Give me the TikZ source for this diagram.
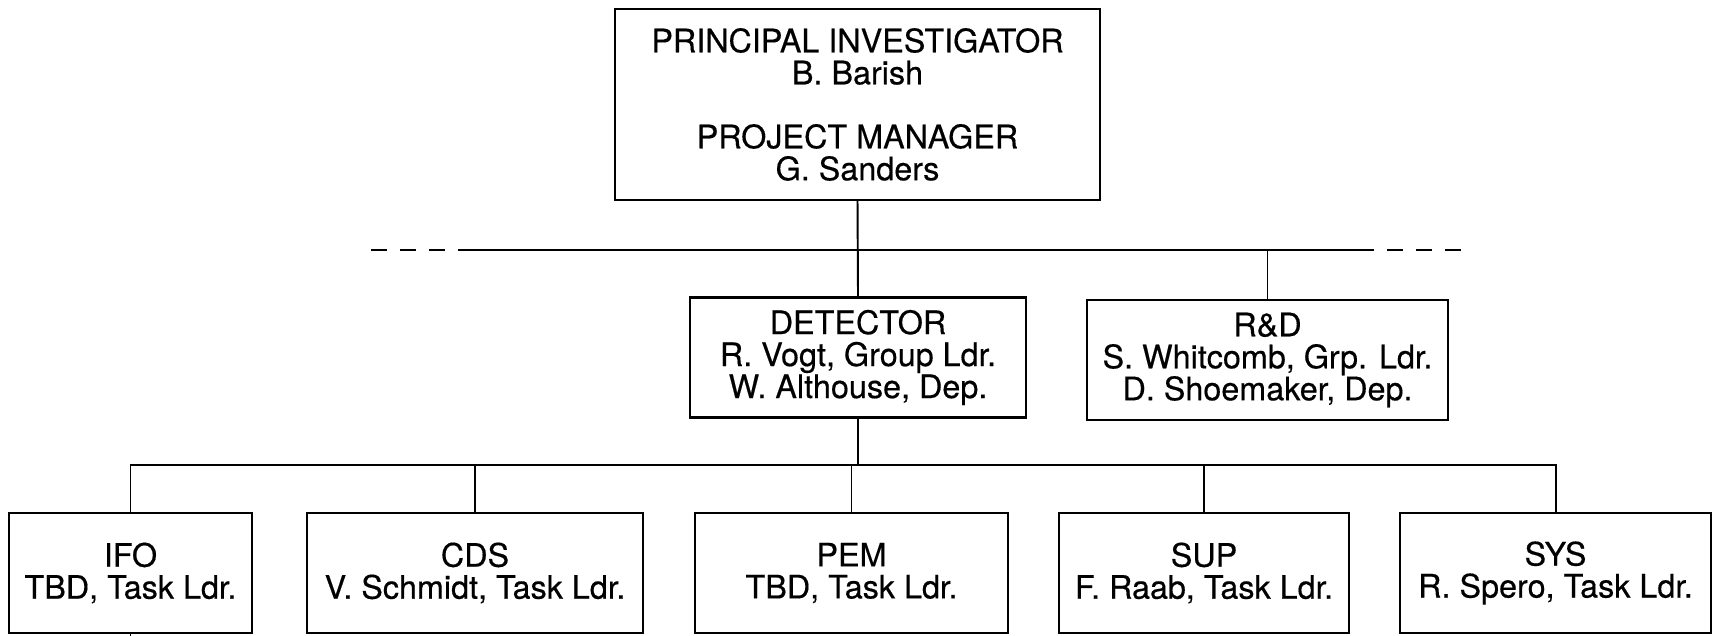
\documentclass[tikz,border=0pt]{standalone}
\usepackage{fontspec}
\setmainfont{TeX Gyre Heros}[FakeBold=0.4]
\begin{document}
\begin{tikzpicture}[
  box/.style={draw, line width=0.65pt, align=center, inner sep=0pt,
    minimum height=1.2cm, font=\fontsize{9.2}{9.1}\selectfont},
  wire/.style={line width=0.55pt},
  dashwire/.style={line width=0.55pt, dash pattern=on 0.16cm off 0.13cm}
]
\useasboundingbox (0,0) rectangle (17.13,-6.36);
% top office
\node[box, minimum width=4.85cm, minimum height=1.91cm] (pi) at (8.575,-1.045)
  {PRINCIPAL INVESTIGATOR\\B. Barish\\[9.1pt]PROJECT MANAGER\\G. Sanders};
% groups
\node[box, minimum width=3.36cm] (det) at (8.58,-3.575)
  {DETECTOR\\R. Vogt, Group Ldr.\\W. Althouse, Dep.};
\node[box, minimum width=3.61cm] (rnd) at (12.675,-3.6)
  {R\&D\\S. Whitcomb, Grp. Ldr.\\D. Shoemaker, Dep.};
% tasks
\pgfmathsetmacro{\ty}{-5.73}
\node[box, minimum width=2.43cm] (ifo) at (1.305,\ty) {IFO\\TBD, Task Ldr.};
\node[box, minimum width=3.36cm] (cds) at (4.75,\ty) {CDS\\V. Schmidt, Task Ldr.};
\node[box, minimum width=3.13cm] (pem) at (8.515,\ty) {PEM\\TBD, Task Ldr.};
\node[box, minimum width=2.90cm] (sup) at (12.04,\ty) {SUP\\F. Raab, Task Ldr.};
\node[box, minimum width=3.11cm] (sys) at (15.555,\ty) {SYS\\R. Spero, Task Ldr.};
% upper bus, dashed at both ends
\coordinate (busL) at (4.59,-2.5);
\coordinate (busR) at (13.74,-2.5);
\coordinate (dashL) at (3.71,-2.5);
\coordinate (dashR) at (14.61,-2.5);
\draw[wire] (busL) -- (busR);
\draw[dashwire] (dashL) -- (busL);
\draw[dashwire] (dashR) -- (busR);
\draw[wire] (pi.south) -- (det.north);
\draw[wire] (rnd.north) -- (rnd.north |- busR);
% lower bus
\coordinate (busB) at (0,-4.65);
\draw[wire] (ifo.north) -- (ifo.north |- busB) -- (sys.north |- busB) -- (sys.north);
\foreach \n in {cds,pem,sup}
  \draw[wire] (\n.north) -- (\n.north |- busB);
\draw[wire] (det.south) -- (det.south |- busB);
\draw[wire] (ifo.south) -- ++(0,-0.1);
%\draw[wire] (pem.south) -- ++(0,-0.1);
\end{tikzpicture}
\end{document}
